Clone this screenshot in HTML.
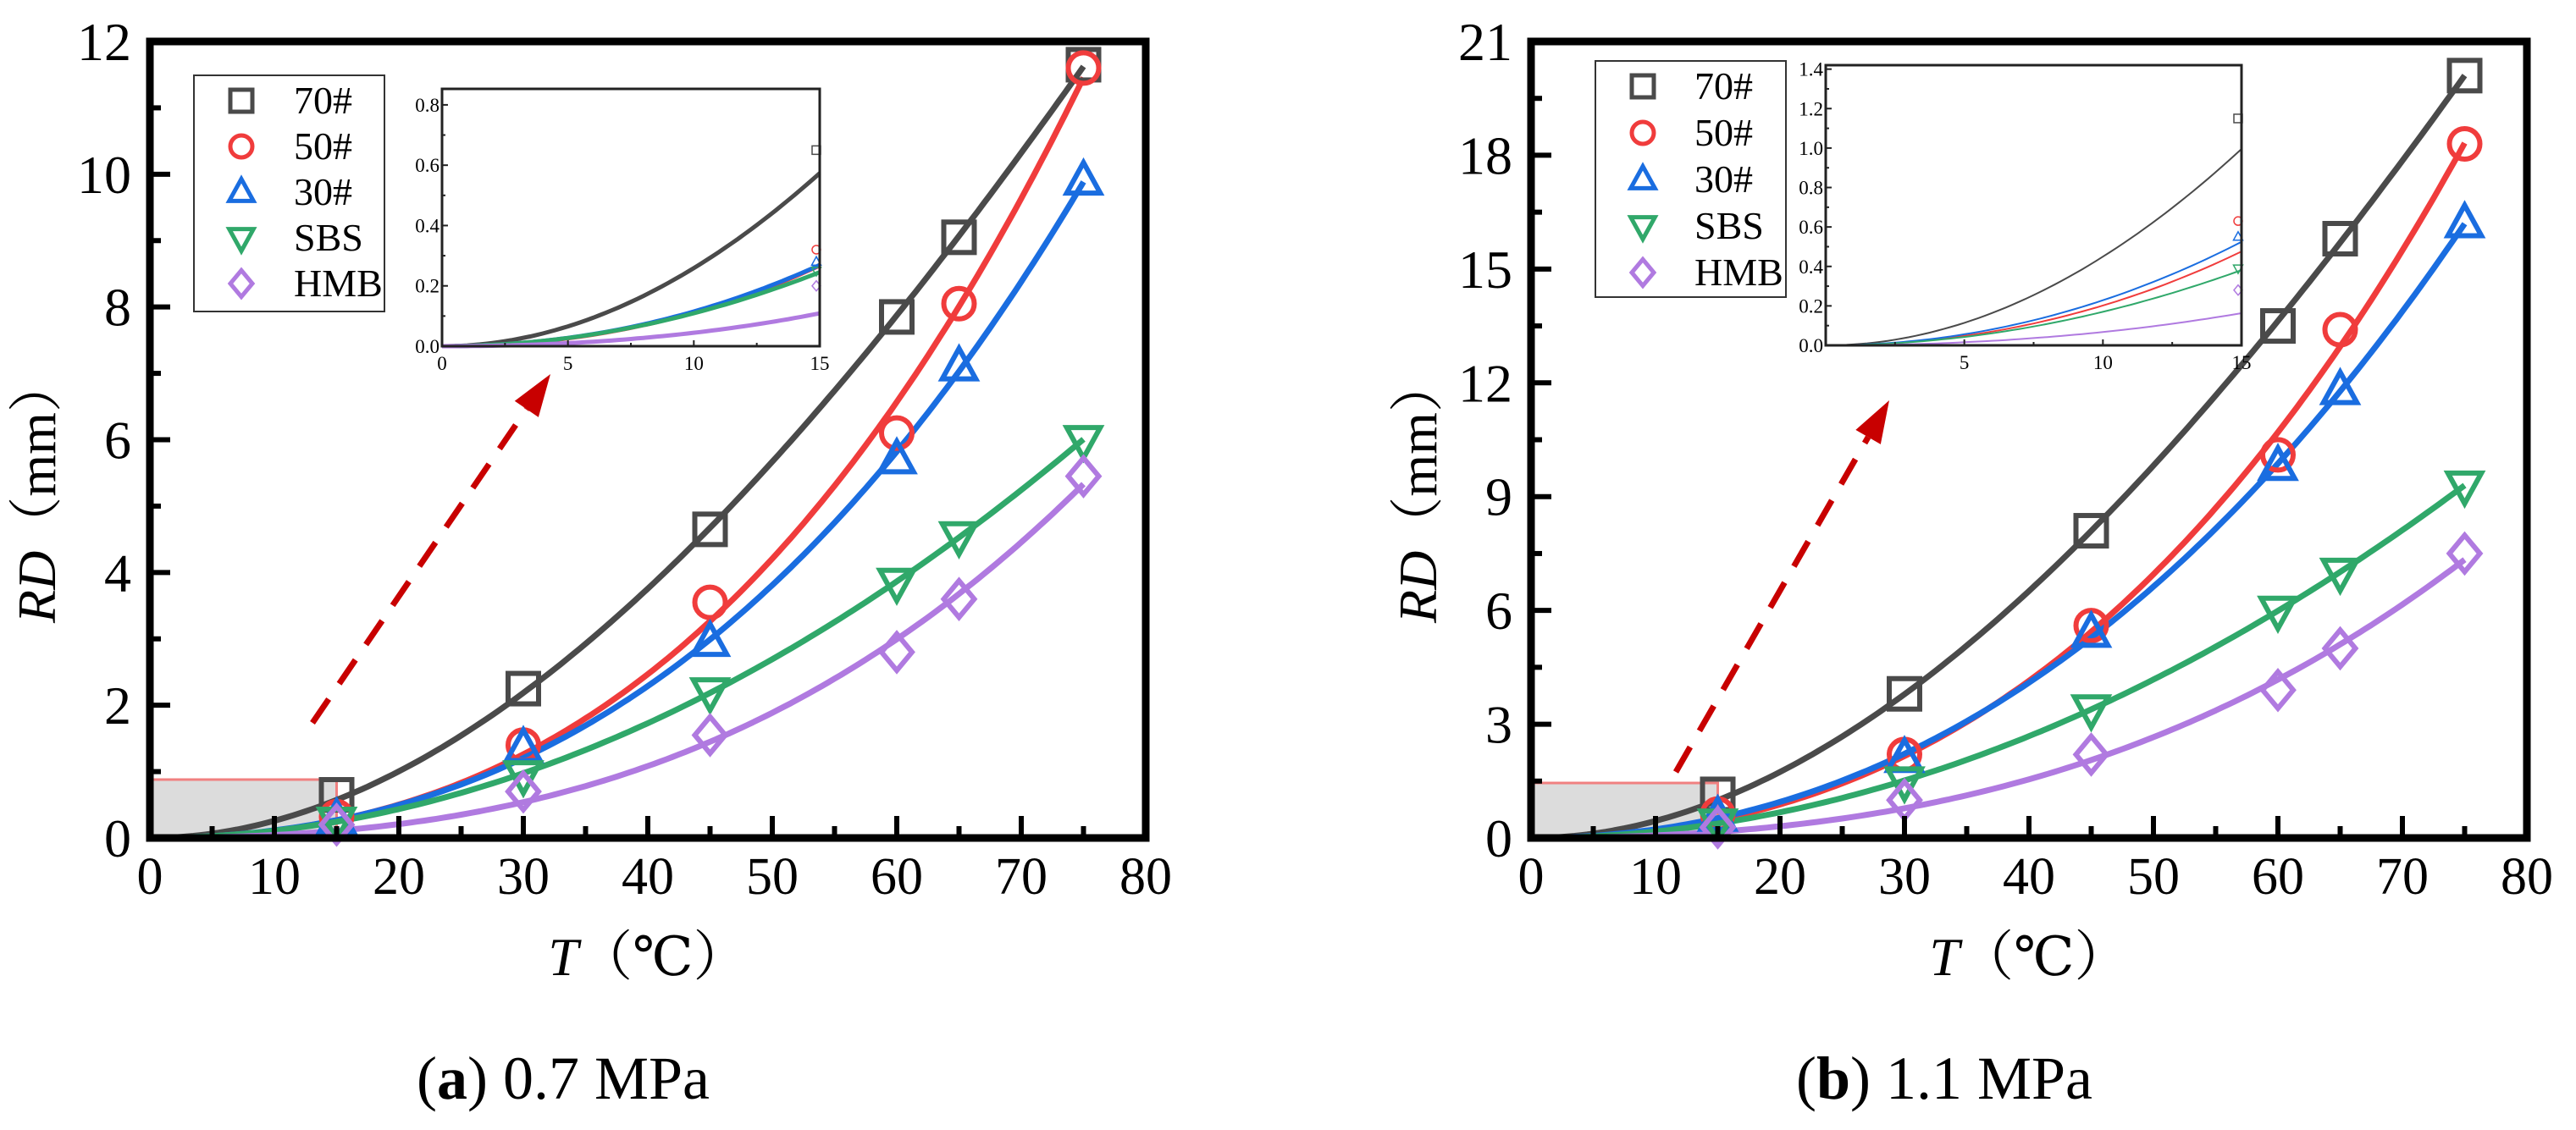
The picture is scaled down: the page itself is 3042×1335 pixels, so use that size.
<!DOCTYPE html>
<html><head><meta charset="utf-8">
<style>
html,body{margin:0;padding:0;background:#fff;}
svg{display:block;}
</style></head>
<body>
<svg id="chart" width="3042" height="1335" viewBox="0 0 3042 1335" xmlns="http://www.w3.org/2000/svg" font-family="'Liberation Serif', 'DejaVu Serif', 'Noto Serif CJK SC', serif"></svg>
<script>
// ---- data ----
const seriesNames = ["70#", "50#", "30#", "SBS", "HMB"];
const seriesColors = ["#4a4a4a", "#f03c3c", "#1a6de0", "#30a86a", "#b07ae0"];
const temps = [15, 30, 45, 60, 65, 75];
const rdA_70 = [0.65, 2.25, 4.65, 7.85, 9.05, 11.65];
const rdA_50 = [0.32, 1.4, 3.55, 6.1, 8.05, 11.6];
const rdA_30 = [0.28, 1.35, 2.95, 5.7, 7.1, 9.9];
const rdA_SBS = [0.25, 0.95, 2.2, 3.85, 4.55, 6.0];
const rdA_HMB = [0.2, 0.7, 1.55, 2.8, 3.6, 5.45];
const rdB_70 = [1.15, 3.8, 8.1, 13.5, 15.8, 20.1];
const rdB_50 = [0.63, 2.2, 5.6, 10.1, 13.4, 18.3];
const rdB_30 = [0.55, 2.1, 5.4, 9.8, 11.8, 16.2];
const rdB_SBS = [0.39, 1.5, 3.4, 6.0, 7.0, 9.3];
const rdB_HMB = [0.28, 1.0, 2.2, 3.9, 5.0, 7.5];
const xTicks = [0, 10, 20, 30, 40, 50, 60, 70, 80];
const yTicksA = [0, 2, 4, 6, 8, 10, 12];
const yTicksB = [0, 3, 6, 9, 12, 15, 18, 21];
const insetYTicksA = [0.0, 0.2, 0.4, 0.6, 0.8];
const insetYTicksB = [0.0, 0.2, 0.4, 0.6, 0.8, 1.0, 1.2, 1.4];
const insetXTicksA = [0, 5, 10, 15];
const insetXTicksB = [5, 10, 15];

const NS = "http://www.w3.org/2000/svg";
const FONT = "'Liberation Serif', 'DejaVu Serif', 'Noto Serif CJK SC', serif";
const svg = document.getElementById("chart");
function mk(tag, attrs, parent, txt) {
  const e = document.createElementNS(NS, tag);
  for (const k in attrs) e.setAttribute(k, attrs[k]);
  if (tag === "text") e.setAttribute("font-family", FONT);
  if (txt !== undefined) e.textContent = txt;
  (parent || svg).appendChild(e);
  return e;
}
// least squares y = a x^2 + b x^3
function fit(xs, ys) {
  let s11 = 0, s12 = 0, s22 = 0, v1 = 0, v2 = 0;
  for (let i = 0; i < xs.length; i++) {
    const f1 = xs[i] * xs[i], f2 = f1 * xs[i];
    s11 += f1 * f1; s12 += f1 * f2; s22 += f2 * f2; v1 += f1 * ys[i]; v2 += f2 * ys[i];
  }
  const det = s11 * s22 - s12 * s12;
  const a = (v1 * s22 - v2 * s12) / det, b = (s11 * v2 - s12 * v1) / det;
  return x => Math.max(0, a * x * x + b * x * x * x);
}
function marker(g, type, cx, cy, s, color, sw) {
  let el;
  if (type === 0) el = mk("rect", {x: cx - s / 2, y: cy - s / 2, width: s, height: s}, g);
  else if (type === 1) el = mk("circle", {cx: cx, cy: cy, r: s / 2}, g);
  else if (type === 2) el = mk("polygon", {points: `${cx},${cy - s * 0.6} ${cx - s * 0.55},${cy + s * 0.4} ${cx + s * 0.55},${cy + s * 0.4}`}, g);
  else if (type === 3) el = mk("polygon", {points: `${cx},${cy + s * 0.6} ${cx - s * 0.55},${cy - s * 0.4} ${cx + s * 0.55},${cy - s * 0.4}`}, g);
  else el = mk("polygon", {points: `${cx},${cy - s * 0.6} ${cx + s * 0.5},${cy} ${cx},${cy + s * 0.6} ${cx - s * 0.5},${cy}`}, g);
  el.setAttribute("fill", "none"); el.setAttribute("stroke", color); el.setAttribute("stroke-width", sw);
  return el;
}

function panel(p) {
  const g = mk("g", {});
  
  
  const X = v => p.x0 + (v / 80) * (p.x1 - p.x0);
  const Y = v => p.y0 - (v / p.ymax) * (p.y0 - p.y1);
  const fits = p.series.map(s => fit(temps, s));

  const zr = mk("rect", {x: X(0), y: Y(p.zoomTop), width: X(15) - X(0), height: Y(0) - Y(p.zoomTop), fill: "#dcdcdc", stroke: "#f08080", "stroke-width": 3}, g);
  
  

  p.series.forEach((s, i) => {
    let d = "";
    for (let t = 0; t <= 75; t += 0.5) d += (t === 0 ? "M" : "L") + X(t).toFixed(1) + "," + Y(fits[i](t)).toFixed(1);
    const c = mk("path", {d: d, fill: "none", stroke: seriesColors[i], "stroke-width": 7, "stroke-linejoin": "round"}, g);
    
    
  });
  p.series.forEach((s, i) => {
    s.forEach((v, j) => {
      const m = marker(g, i, X(temps[j]), Y(v), 36, seriesColors[i], 6);
      
      
    });
  });

  const fr = mk("rect", {x: p.x0, y: p.y1, width: p.x1 - p.x0, height: p.y0 - p.y1, fill: "none", stroke: "#000", "stroke-width": 9}, g);
  
  
  xTicks.forEach(v => {
    mk("line", {x1: X(v), x2: X(v), y1: p.y0, y2: p.y0 - 26, stroke: "#000", "stroke-width": 6}, g);
    if (v < 80) mk("line", {x1: X(v + 5), x2: X(v + 5), y1: p.y0, y2: p.y0 - 14, stroke: "#000", "stroke-width": 6}, g);
    const t = mk("text", {x: X(v), y: p.y0 + 66, "font-size": 62, "text-anchor": "middle"}, g, String(v));
    
    
  });
  p.yTicks.forEach((v, k) => {
    mk("line", {x1: p.x0, x2: p.x0 + 24, y1: Y(v), y2: Y(v), stroke: "#000", "stroke-width": 6}, g);
    if (k < p.yTicks.length - 1) { const mv = v + (p.yTicks[1] - p.yTicks[0]) / 2; mk("line", {x1: p.x0, x2: p.x0 + 13, y1: Y(mv), y2: Y(mv), stroke: "#000", "stroke-width": 6}, g); }
    const t = mk("text", {x: p.x0 - 22, y: Y(v) + 22, "font-size": 64, "text-anchor": "end"}, g, String(v));
    
    
  });
  const xt = mk("text", {x: (p.x0 + p.x1) / 2, y: 1152, "font-size": 64, "text-anchor": "middle"}, g);
  
  
  mk("tspan", {"font-style": "italic"}, xt, "T");
  mk("tspan", {}, xt, "（℃）");
  const yt = mk("text", {x: 0, y: 0, "font-size": 64, "text-anchor": "middle", transform: `translate(${p.x0 - 112},${(p.y0 + p.y1) / 2 + 60}) rotate(-90)`}, g);
  
  
  mk("tspan", {"font-style": "italic"}, yt, "RD");
  mk("tspan", {}, yt, "（mm）");
  const cap = mk("text", {x: (p.x0 + p.x1) / 2 - 100, y: 1298, "font-size": 72, "text-anchor": "middle"}, g);
  
  
  mk("tspan", {}, cap, "(");
  mk("tspan", {"font-weight": "bold"}, cap, p.letter);
  mk("tspan", {}, cap, ") " + p.pressure);

  const lg = mk("g", {}, g);
  
  
  mk("rect", {x: p.lg.x, y: p.lg.y, width: p.lg.w, height: p.lg.h, fill: "#fff", stroke: "#333", "stroke-width": 2}, lg);
  seriesNames.forEach((n, i) => {
    const cy = p.lg.y + 30 + i * p.lg.step;
    const e = mk("g", {}, lg);
    
    
    marker(e, i, p.lg.x + 56, cy, 26, seriesColors[i], 5);
    mk("text", {x: p.lg.tx, y: cy + 15, "font-size": 46}, e, n);
  });

  const a = p.arrow;
  const ang = Math.atan2(a.y2 - a.y1, a.x2 - a.x1);
  const bx = a.x2 - 50 * Math.cos(ang), by = a.y2 - 50 * Math.sin(ang);
  const ar = mk("g", {}, g);
  
  
  mk("line", {x1: a.x1, y1: a.y1, x2: bx, y2: by, stroke: "#c80000", "stroke-width": 7, "stroke-dasharray": "34,22"}, ar);
  const px = -Math.sin(ang) * 17, py = Math.cos(ang) * 17;
  mk("polygon", {points: `${a.x2},${a.y2} ${bx + px},${by + py} ${bx - px},${by - py}`, fill: "#c80000"}, ar);

  const ins = p.inset;
  const ig = mk("g", {}, g);
  
  
  const IX = v => ins.x0 + (v / 15) * (ins.x1 - ins.x0);
  const IY = v => ins.y0 - (v / ins.ymax) * (ins.y0 - ins.y1);
  mk("rect", {x: ins.x0, y: ins.y1, width: ins.x1 - ins.x0, height: ins.y0 - ins.y1, fill: "#fff"}, ig);
  p.series.forEach((s, i) => {
    let d = "";
    for (let t = 0; t <= 15; t += 0.25) d += (t === 0 ? "M" : "L") + IX(t).toFixed(1) + "," + IY(fits[i](t)).toFixed(1);
    const c = mk("path", {d: d, fill: "none", stroke: seriesColors[i], "stroke-width": ins.lw}, ig);
    
    
    marker(ig, i, IX(15) - 4, IY(s[0]), 10, seriesColors[i], 1.5);
  });
  mk("rect", {x: ins.x0, y: ins.y1, width: ins.x1 - ins.x0, height: ins.y0 - ins.y1, fill: "none", stroke: "#222", "stroke-width": 3}, ig);
  ins.yTicks.forEach((v, k) => {
    mk("line", {x1: ins.x0, x2: ins.x0 + 7, y1: IY(v), y2: IY(v), stroke: "#222", "stroke-width": 2}, ig);
    if (k < ins.yTicks.length - 1) mk("line", {x1: ins.x0, x2: ins.x0 + 4, y1: IY(v + 0.1), y2: IY(v + 0.1), stroke: "#222", "stroke-width": 2}, ig);
    mk("text", {x: ins.x0 - 3, y: IY(v) + 8, "font-size": 23, "text-anchor": "end"}, ig, v.toFixed(1));
  });
  [2.5, 5, 7.5, 10, 12.5].forEach(v => mk("line", {x1: IX(v), x2: IX(v), y1: ins.y0, y2: ins.y0 - (v % 5 ? 4 : 7), stroke: "#222", "stroke-width": 2}, ig));
  ins.xTicks.forEach(v => mk("text", {x: IX(v), y: ins.y0 + 28, "font-size": 23, "text-anchor": "middle"}, ig, String(v)));
}

panel({name: "panel-a-0.7mpa", letter: "a", pressure: "0.7 MPa", x0: 177, x1: 1353, y0: 990, y1: 49, ymax: 12,
  yTicks: yTicksA, series: [rdA_70, rdA_50, rdA_30, rdA_SBS, rdA_HMB], zoomTop: 0.88,
  lg: {x: 229, y: 89, w: 225, h: 279, step: 54, tx: 347},
  arrow: {x1: 369, y1: 854, x2: 650, y2: 442},
  inset: {x0: 522, x1: 968, y0: 409, y1: 105, ymax: 0.853, lw: 5, yTicks: insetYTicksA, xTicks: insetXTicksA}});
panel({name: "panel-b-1.1mpa", letter: "b", pressure: "1.1 MPa", x0: 1808, x1: 2984, y0: 990, y1: 49, ymax: 21,
  yTicks: yTicksB, series: [rdB_70, rdB_50, rdB_30, rdB_SBS, rdB_HMB], zoomTop: 1.45,
  lg: {x: 1884, y: 72, w: 225, h: 279, step: 55, tx: 2001},
  arrow: {x1: 1979, y1: 912, x2: 2231, y2: 473},
  inset: {x0: 2156, x1: 2647, y0: 408, y1: 77, ymax: 1.42, lw: 2, yTicks: insetYTicksB, xTicks: insetXTicksB}});
</script>
</body></html>
